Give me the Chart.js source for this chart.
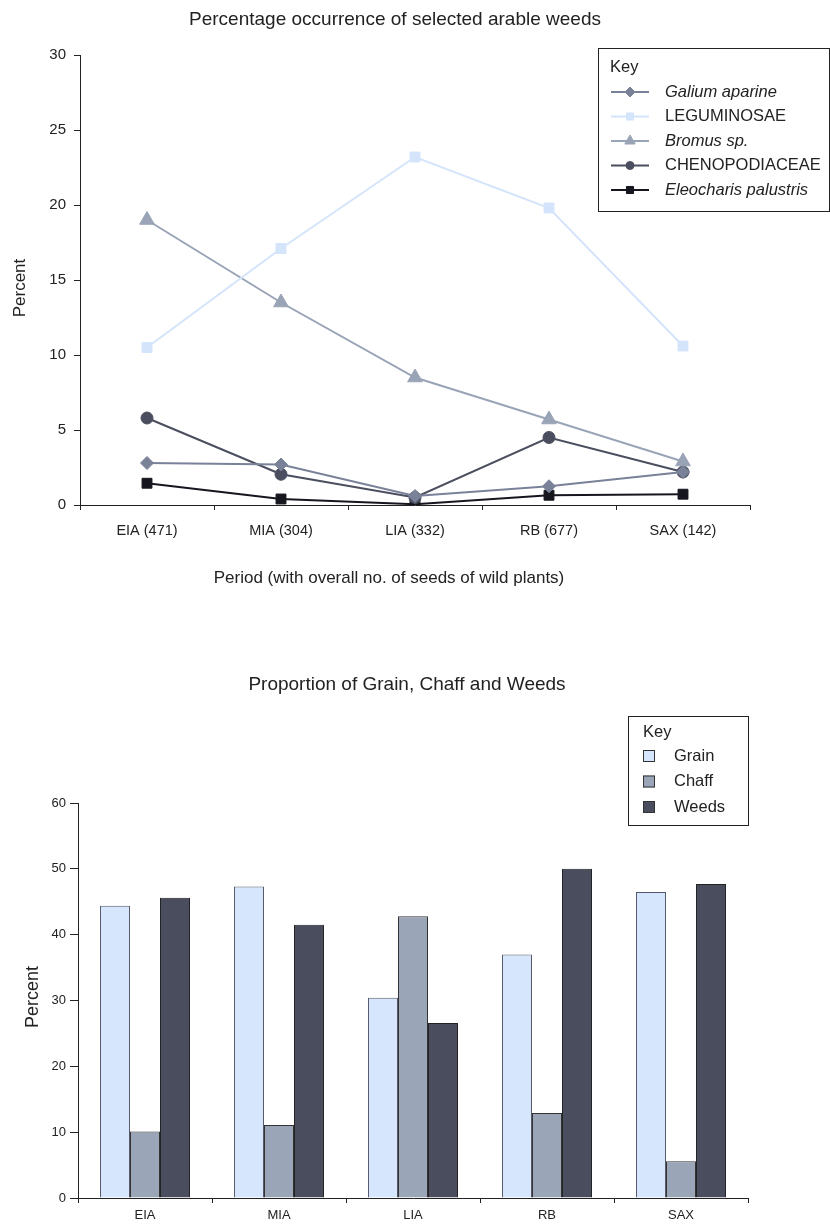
<!DOCTYPE html>
<html>
<head>
<meta charset="utf-8">
<title>Arable weeds</title>
<script src="https://cdn.jsdelivr.net/npm/chart.js@4.4.1/dist/chart.umd.min.js"></script>
<style>
  body { margin: 0; background: #fff; }
  .box { position: absolute; left: 0; width: 830px; }
  #topBox { top: 0; height: 610px; }
  #bottomBox { top: 630px; height: 594px; }
</style>
</head>
<body>
<div class="box" id="topBox"><canvas id="weedsChart"></canvas></div>
<div class="box" id="bottomBox"><canvas id="proportionChart"></canvas></div>
<script>
// data
const periods = ['EIA (471)', 'MIA (304)', 'LIA (332)', 'RB (677)', 'SAX (142)'];
const galium = [2.8, 2.7, 0.6, 1.25, 2.2];
const leguminosae = [10.5, 17.1, 23.2, 19.8, 10.6];
const bromus = [19.0, 13.5, 8.5, 5.7, 2.9];
const chenopodiaceae = [5.8, 2.05, 0.5, 4.5, 2.2];
const eleocharis = [1.45, 0.4, 0.05, 0.65, 0.72];
const weedTicks = [0, 5, 10, 15, 20, 25, 30];

const phases = ['EIA', 'MIA', 'LIA', 'RB', 'SAX'];
const grain = [44.4, 47.3, 30.4, 37.0, 46.5];
const chaff = [10.1, 11.1, 42.8, 12.9, 5.6];
const weeds = [45.6, 41.5, 26.6, 50.0, 47.7];
const proportionTicks = [0, 10, 20, 30, 40, 50, 60];

const FONT = '"Liberation Sans", Arial, Helvetica, sans-serif';
const INK = '#222';

// titles and axis captions, drawn where the original has them
const captions = {
  id: 'captions',
  afterDraw(chart, args, opts) {
    const ctx = chart.ctx;
    ctx.save();
    ctx.fillStyle = INK;
    ctx.textAlign = 'center';
    ctx.textBaseline = 'middle';
    (opts.items || []).forEach(c => {
      ctx.save();
      ctx.font = c.size + 'px ' + FONT;
      ctx.translate(c.x, c.y);
      if (c.rotate) ctx.rotate(-Math.PI / 2);
      ctx.fillText(c.text, 0, 0);
      ctx.restore();
    });
    ctx.restore();
  }
};

// boxed "Key" legend
const keyBox = {
  id: 'keyBox',
  afterDraw(chart, args, o) {
    const ctx = chart.ctx;
    ctx.save();
    ctx.fillStyle = '#fff';
    ctx.fillRect(o.x, o.y, o.w, o.h);
    ctx.strokeStyle = INK;
    ctx.lineWidth = 1;
    ctx.strokeRect(o.x + 0.5, o.y + 0.5, o.w, o.h);
    ctx.fillStyle = INK;
    ctx.textBaseline = 'middle';
    ctx.font = o.size + 'px ' + FONT;
    ctx.fillText('Key', o.keyX, o.keyY);
    chart.data.datasets.forEach((ds, i) => {
      const y = o.row0 + i * o.gap;
      if (o.kind === 'line') {
        ctx.strokeStyle = ds.borderColor;
        ctx.lineWidth = 2;
        ctx.beginPath();
        ctx.moveTo(o.sampleX, y);
        ctx.lineTo(o.sampleX + 38, y);
        ctx.stroke();
        ctx.fillStyle = ds.borderColor;
        ctx.strokeStyle = ds.borderColor;
        ctx.lineWidth = 1;
        Chart.helpers.drawPoint(ctx, { pointStyle: ds.pointStyle, radius: ds.keyRadius, rotation: 0, borderWidth: 1 }, o.sampleX + 19, y);
      } else {
        ctx.fillStyle = ds.backgroundColor;
        ctx.fillRect(o.sampleX, y - 6, 12, 12);
        ctx.strokeStyle = '#333';
        ctx.lineWidth = 1;
        ctx.strokeRect(o.sampleX + 0.5, y - 5.5, 11, 11);
      }
      ctx.fillStyle = INK;
      ctx.font = (ds.italic ? 'italic ' : '') + o.size + 'px ' + FONT;
      ctx.fillText(ds.label, o.textX, y);
    });
    ctx.restore();
  }
};

function lineSet(label, data, color, style, radius, keyRadius, italic) {
  return {
    label, data, italic, keyRadius,
    borderColor: color,
    backgroundColor: color,
    borderWidth: 2,
    pointStyle: style,
    pointRadius: radius,
    pointHoverRadius: radius,
    pointBorderWidth: 1,
    tension: 0
  };
}

new Chart(document.getElementById('weedsChart'), {
  type: 'line',
  data: {
    labels: periods,
    datasets: [
      lineSet('Galium aparine', galium, '#7a8299', 'rectRot', 6.5, 5, true),
      lineSet('LEGUMINOSAE', leguminosae, '#d3e4fb', 'rect', 7, 5, false),
      lineSet('Bromus sp.', bromus, '#9aa4b7', 'triangle', 8.5, 6, true),
      lineSet('CHENOPODIACEAE', chenopodiaceae, '#4a4e5e', 'circle', 6, 4, false),
      lineSet('Eleocharis palustris', eleocharis, '#16161f', 'rect', 7, 5, true)
    ]
  },
  options: {
    responsive: true,
    maintainAspectRatio: false,
    animation: false,
    layout: { padding: { top: 55, right: 80, left: 0, bottom: 0 } },
    plugins: {
      legend: { display: false },
      tooltip: { enabled: false },
      captions: {
        items: [
          { text: 'Percentage occurrence of selected arable weeds', x: 395, y: 20, size: 19 },
          { text: 'Period (with overall no. of seeds of wild plants)', x: 389, y: 578, size: 17 },
          { text: 'Percent', x: 20, y: 288, size: 17, rotate: true }
        ]
      },
      keyBox: { kind: 'line', size: 16.5, x: 598, y: 48, w: 231, h: 163, keyX: 610, keyY: 67, row0: 92, gap: 24.5, sampleX: 611, textX: 665 }
    },
    scales: {
      x: {
        offset: true,
        afterFit: s => { s.height = 105; },
        grid: { display: true, offset: true, drawOnChartArea: false, tickLength: 5, tickColor: INK },
        border: { color: INK, width: 1 },
        ticks: { color: INK, padding: 12, font: { family: FONT, size: 14.5 } }
      },
      y: {
        min: 0, max: 30,
        afterFit: s => { s.width = 80; },
        afterBuildTicks: s => { s.ticks = weedTicks.map(v => ({ value: v })); },
        grid: { display: true, drawOnChartArea: false, tickLength: 6, tickColor: INK },
        border: { color: INK, width: 1 },
        ticks: { color: INK, padding: 8, font: { family: FONT, size: 15 } }
      }
    }
  },
  plugins: [captions, keyBox]
});

new Chart(document.getElementById('proportionChart'), {
  type: 'bar',
  data: {
    labels: phases,
    datasets: [
      { label: 'Grain', data: grain, backgroundColor: '#d6e6fc', borderColor: '#55586a', borderWidth: 1 },
      { label: 'Chaff', data: chaff, backgroundColor: '#9aa5b8', borderColor: '#333', borderWidth: 1 },
      { label: 'Weeds', data: weeds, backgroundColor: '#4a4d5e', borderColor: '#222', borderWidth: 1 }
    ]
  },
  options: {
    responsive: true,
    maintainAspectRatio: false,
    animation: false,
    layout: { padding: { top: 173, right: 82, left: 0, bottom: 0 } },
    datasets: { bar: { categoryPercentage: 0.672, barPercentage: 1 } },
    plugins: {
      legend: { display: false },
      tooltip: { enabled: false },
      captions: {
        items: [
          { text: 'Proportion of Grain, Chaff and Weeds', x: 407, y: 55, size: 19 },
          { text: 'Percent', x: 33, y: 367, size: 18, rotate: true }
        ]
      },
      keyBox: { kind: 'bar', size: 16.5, x: 628, y: 86, w: 120, h: 109, keyX: 643, keyY: 102, row0: 126, gap: 25.5, sampleX: 643, textX: 674 }
    },
    scales: {
      x: {
        afterFit: s => { s.height = 26; },
        grid: { display: true, offset: true, drawOnChartArea: false, tickLength: 5, tickColor: INK },
        border: { color: INK, width: 1 },
        ticks: { color: INK, padding: 5, font: { family: FONT, size: 13 } }
      },
      y: {
        min: 0, max: 60,
        afterFit: s => { s.width = 78; },
        afterBuildTicks: s => { s.ticks = proportionTicks.map(v => ({ value: v })); },
        grid: { display: true, drawOnChartArea: false, tickLength: 8, tickColor: INK },
        border: { color: INK, width: 1 },
        ticks: { color: INK, padding: 4, font: { family: FONT, size: 13 } }
      }
    }
  },
  plugins: [captions, keyBox]
});
</script>
</body>
</html>
